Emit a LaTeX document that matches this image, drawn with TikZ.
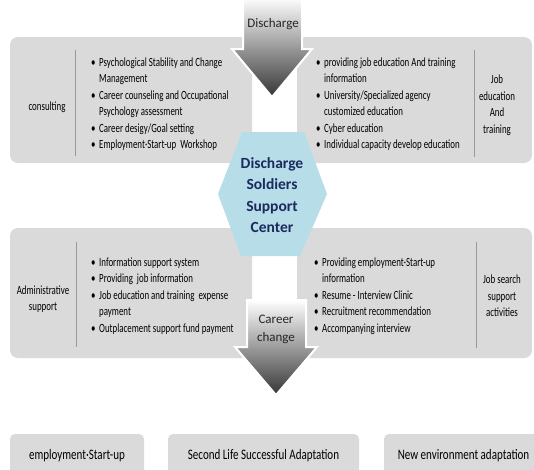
\documentclass[tikz,border=0pt]{standalone}
\usepackage{fontspec}
\setmainfont{Carlito}
\newfontfamily\narrowfont[FakeStretch=0.71]{Carlito}
\newfontfamily\boxfont[FakeStretch=0.76]{Carlito}
\definecolor{panelgray}{HTML}{DADADA}
\definecolor{hexblue}{HTML}{B7DEE8}
\definecolor{hexnavy}{HTML}{1B2A5E}
\definecolor{arrowdark}{HTML}{363636}
\newcommand{\bl}{\makebox[8pt][l]{\textbullet}}
\newcommand{\hang}{\hspace*{8pt}}
\tikzset{
  panel/.style={fill=panelgray, rounded corners=8pt},
  divider/.style={draw=gray!80, line width=0.8pt},
  list/.style={anchor=north west, align=left, inner sep=0pt,
    font=\narrowfont\fontsize{12.5}{16.5}\selectfont},
  lbl/.style={align=center, inner sep=0pt,
    font=\narrowfont\fontsize{12.5}{16.5}\selectfont},
  bigarrow/.style={top color=white, bottom color=arrowdark, draw=white, line width=2pt},
  arrowlbl/.style={align=center, inner sep=0pt, text=black!85,
    font=\fontsize{13}{18}\selectfont},
  hubtext/.style={align=center, inner sep=0pt, text=hexnavy,
    font=\bfseries\fontsize{15.5}{21.5}\selectfont},
  outbox/.style={fill=panelgray, rounded corners=5pt, inner sep=0pt,
    font=\boxfont\fontsize{14.5}{16}\selectfont}
}
\begin{document}
\begin{tikzpicture}[x=1pt,y=-1pt]
\clip (0,0) rectangle (534,469);
\fill[white] (0,0) rectangle (534,469);
% panels
\path[panel] (10,37) rectangle (252,163);
\path[panel] (297,37) rectangle (532,163);
\path[panel] (10,228) rectangle (252,358);
\path[panel] (297,228) rectangle (532,358);
\draw[divider] (75,50) -- (75,156);
\draw[divider] (474,50) -- (474,157);
\draw[divider] (76,242) -- (76,347);
\draw[divider] (476,242) -- (476,348);
% side labels
\node[lbl] (consult) at (47,107) {consulting};
\node[lbl] (jobedu) at (497,105) {Job\\education\\And\\training};
\node[lbl] (admin) at (43,299) {Administrative\\support};
\node[lbl] (jobsearch) at (502,296) {Job search\\support\\activities};
% bullet lists
\node[list] (cons) at (91,57.5) {\bl Psychological Stability and Change\\
  \hang Management\\
  \bl Career counseling and Occupational\\
  \hang Psychology assessment\\
  \bl Career desigy/Goal setting\\
  \bl Employment·Start-up\ \ Workshop};
\node[list] (train) at (316,57.5) {\bl providing job education And training\\
  \hang information\\
  \bl University/Specialized agency\\
  \hang customized education\\
  \bl Cyber education\\
  \bl Individual capacity develop education};
\node[list] (supp) at (91,257.5) {\bl Information support system\\
  \bl Providing\ \ job information\\
  \bl Job education and training\ \ expense\\
  \hang payment\\
  \bl Outplacement support fund payment};
\node[list] (search) at (314,257.5) {\bl Providing employment·Start-up\\
  \hang information\\
  \bl Resume - Interview Clinic\\
  \bl Recruitment recommendation\\
  \bl Accompanying interview};
% center
\path[fill=hexblue] (218,194) -- (242,132) -- (304,132) -- (327,194)
  -- (300,256) -- (241,256) -- cycle;
\node[hubtext] (hub) at (272,195) {Discharge\\Soldiers\\Support\\Center};
% arrows
\path[bigarrow] (243,-3) -- (302,-3) -- (302,49) -- (312,49) -- (272,97)
  -- (232,49) -- (243,49) -- cycle;
\node[arrowlbl] (dis) at (273,24) {Discharge};
\path[bigarrow] (247,300) -- (306,300) -- (306,347) -- (317,347) -- (276,395)
  -- (235,347) -- (247,347) -- cycle;
\node[arrowlbl] (career) at (276,329) {Career\\change};
% results
\node[outbox, minimum width=134pt, minimum height=44pt] (emp) at (77,456) {employment·Start-up};
\node[outbox, minimum width=191pt, minimum height=44pt] (life) at (263.5,456) {Second\ Life Successful Adaptation};
\node[outbox, minimum width=159pt, minimum height=44pt] (env) at (463.5,456) {New environment adaptation};
\end{tikzpicture}
\end{document}
